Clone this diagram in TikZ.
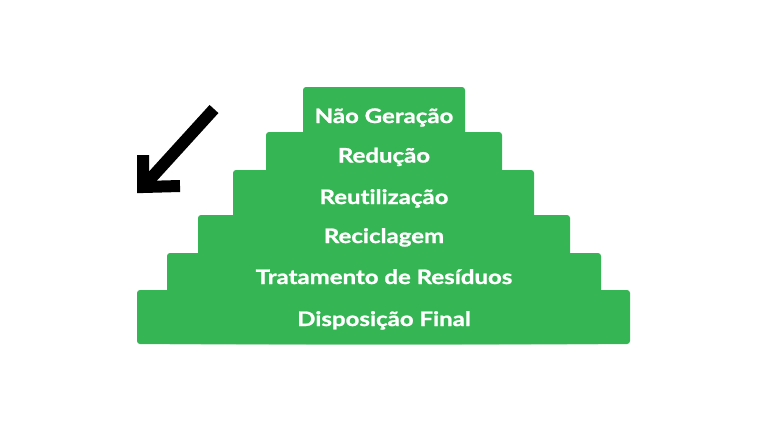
\documentclass[tikz,border=0pt]{standalone}
\usepackage{fontspec}
\setmainfont{Lato}[Ligatures=NoCommon,FakeStretch=1.2,BoldFeatures={FakeBold=1.2}]
\definecolor{stepgreen}{HTML}{35B553}
\begin{document}
\begin{tikzpicture}[x=1pt,y=-1pt,
  layer/.style={fill=stepgreen,rounded corners=3pt},
  lbl/.style={anchor=base,text=white,font=\fontsize{20}{24}\selectfont\bfseries,inner sep=0pt},
  arr/.style={line width=12pt,black,line join=miter}]
\useasboundingbox[fill=white] (0,0) rectangle (768,432);
\fill[layer] (137,290) rectangle (630,344);
\fill[layer] (167,253) rectangle (601,344);
\fill[layer] (198,215) rectangle (570,344);
\fill[layer] (233,170) rectangle (534,344);
\fill[layer] (266,132) rectangle (502,344);
\fill[layer] (303,87) rectangle (465,344);
\node[lbl] (l1) at (384,123) {Não Geração};
\node[lbl] (l2) at (384,162.5) {Redução};
\node[lbl] (l3) at (384,204) {Reutilização};
\node[lbl] (l4) at (384,243) {Reciclagem};
\node[lbl] (l5) at (384,284) {Tratamento de Resíduos};
\node[lbl] (l6) at (384,326) {Disposição Final};
\coordinate (as) at (214,109);
\coordinate (at) at (143,187);
\coordinate (ah1) at (143,155);
\coordinate (ah2) at (180,186);
\draw[arr] (as) -- (at);
\draw[arr] (ah1) -- (at) -- (ah2);
\end{tikzpicture}
\end{document}
